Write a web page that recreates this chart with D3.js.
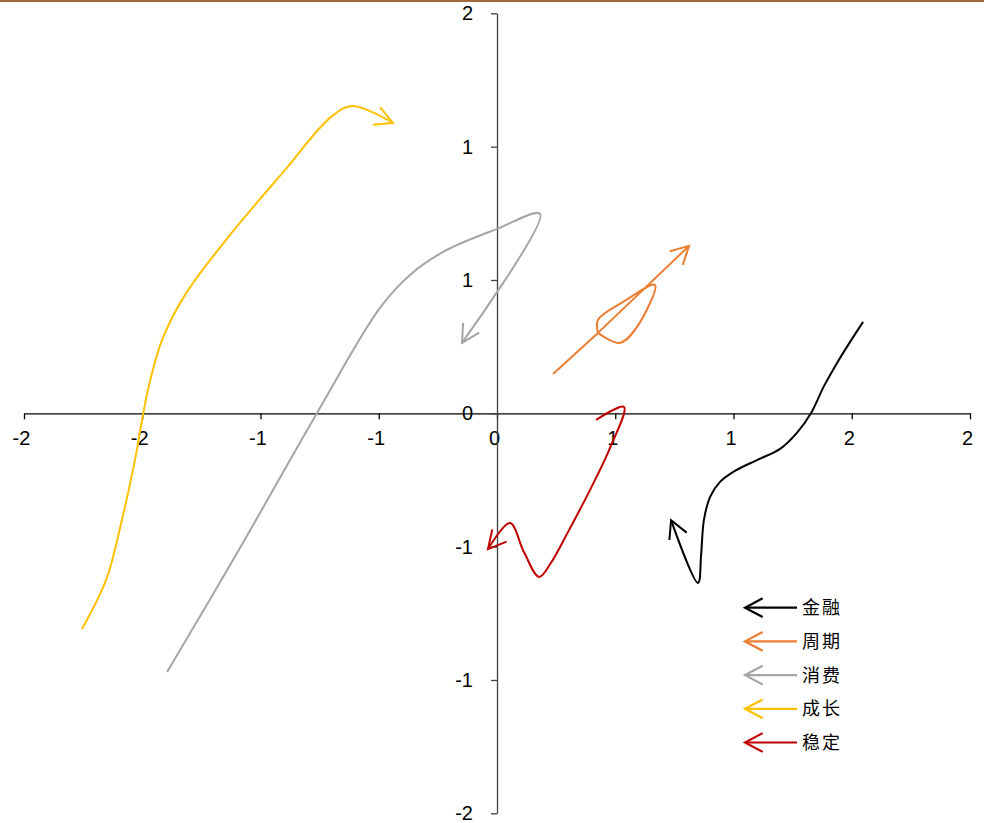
<!DOCTYPE html>
<html><head><meta charset="utf-8">
<script src="https://cdn.jsdelivr.net/npm/d3@7"></script>
<style>body{margin:0;background:#fff}svg{display:block}</style>
</head><body><svg id="c" width="984" height="823"></svg>
<script>
// ---- data ----
const seriesNames = ["金融","周期","消费","成长","稳定"];
const xTickValues = [-2,-1.5,-1,-0.5,0,0.5,1,1.5,2];
const xTickLabels = ["-2","-2","-1","-1","0","1","1","2","2"];
const yTickValues = [2,4/3,2/3,0,-2/3,-4/3,-2];
const yTickLabels = ["2","1","1","0","-1","-1","-2"];

const finX = [1.548,1.493,1.438,1.383,1.328,1.268,1.197,1.099,1.006,0.943,0.901,0.875,0.863,0.850,0.736];
const finY = [0.457,0.357,0.252,0.137,0.002,-0.098,-0.178,-0.234,-0.288,-0.343,-0.418,-0.533,-0.708,-0.848,-0.534];

const cycX = [0.237,0.427,0.520,0.592,0.668,0.533,0.427,0.427,0.812];
const cycY = [0.197,0.402,0.352,0.432,0.642,0.557,0.467,0.402,0.837];
const cycBreaks = [1,7]; // points where the smoothed line has a corner

const conX = [-1.395,-1.087,-0.761,-0.495,-0.368,-0.220,0.000,0.182,-0.148];
const conY = [-1.294,-0.674,0.002,0.527,0.692,0.812,0.922,0.997,0.352];

const groX = [-1.755,-1.653,-1.586,-1.531,-1.476,-1.416,-1.319,-1.129,-0.896,-0.706,-0.613,-0.440];
const groY = [-1.079,-0.833,-0.533,-0.234,0.117,0.367,0.592,0.892,1.217,1.477,1.537,1.452];

const staX = [0.419,0.537,0.478,0.393,0.300,0.228,0.178,0.114,0.055,-0.038];
const staY = [-0.033,0.032,-0.173,-0.384,-0.594,-0.748,-0.818,-0.694,-0.549,-0.679];

const seriesX = [finX,cycX,conX,groX,staX];
const seriesY = [finY,cycY,conY,groY,staY];
const seriesBreaks = [[],cycBreaks,[],[],[]];

// ---- styles ----
const colors = ["#000000","#ED7D31","#A5A5A5","#FFC000","#C00000"];

const W = 984, H = 823;
const svg = d3.select("#c");
const x = d3.scaleLinear().domain([-2,2]).range([24,970]);
const y = d3.scaleLinear().domain([-2,2]).range([813.3,13.3]);

svg.append("rect").attr("x",0).attr("y",0).attr("width",W).attr("height",2).attr("fill","#9e6b3e");

const font = "'Liberation Sans', Arial, sans-serif";

const gx = svg.append("g").attr("transform",`translate(0,${y(0)})`)
  .call(d3.axisBottom(x).tickValues(xTickValues).tickFormat((d,i)=>xTickLabels[i])
    .tickSize(6).tickSizeOuter(0).tickPadding(12));
gx.attr("font-size",20).attr("font-family",font);
gx.select(".domain").attr("stroke","#000").attr("stroke-width",1.3);
gx.selectAll(".tick line").attr("stroke","#000").attr("stroke-width",1.3);
gx.selectAll(".tick text").attr("fill","#000").attr("dx","-3");

const gy = svg.append("g").attr("transform",`translate(${x(0)},0)`)
  .call(d3.axisLeft(y).tickValues(yTickValues).tickFormat((d,i)=>yTickLabels[i])
    .tickSize(6).tickSizeOuter(0).tickPadding(18));
gy.attr("font-size",20).attr("font-family",font);
gy.select(".domain").attr("stroke","#404040").attr("stroke-width",1.3);
gy.selectAll(".tick line").attr("stroke","#404040").attr("stroke-width",1.3);
gy.selectAll(".tick text").attr("fill","#000");

const line = d3.line().x(d=>x(d[0])).y(d=>y(d[1])).curve(d3.curveCatmullRom.alpha(0.5));

const AL = 20, AH = 28*Math.PI/180;
function arrowPath(tx,ty,ux,uy){
  const bx = -ux, by = -uy;
  const c = Math.cos(AH), s = Math.sin(AH);
  const p1 = [tx + AL*(bx*c - by*s), ty + AL*(bx*s + by*c)];
  const p2 = [tx + AL*(bx*c + by*s), ty + AL*(-bx*s + by*c)];
  return `M${p1[0]},${p1[1]}L${tx},${ty}L${p2[0]},${p2[1]}`;
}

seriesNames.forEach((name,i)=>{
  const pts = seriesX[i].map((v,k)=>[v, seriesY[i][k]]);
  const g = svg.append("g");
  const cuts = [0, ...seriesBreaks[i], pts.length-1];
  let d = "";
  for (let k=0;k<cuts.length-1;k++){
    d += line(pts.slice(cuts[k], cuts[k+1]+1));
  }
  g.append("path").attr("d",d).attr("fill","none")
    .attr("stroke",colors[i]).attr("stroke-width",2).attr("stroke-linejoin","round");
  const n = pts.length;
  const tx = x(pts[n-1][0]), ty = y(pts[n-1][1]);
  const px = x(pts[n-2][0]), py = y(pts[n-2][1]);
  const dl = Math.hypot(tx-px, ty-py);
  g.append("path").attr("d",arrowPath(tx,ty,(tx-px)/dl,(ty-py)/dl)).attr("fill","none")
    .attr("stroke",colors[i]).attr("stroke-width",2).attr("stroke-linejoin","miter");
});

// legend
const leg = svg.append("g");
seriesNames.forEach((name,i)=>{
  const ly = 607.7 + i*33.7;
  leg.append("line").attr("x1",746).attr("x2",797).attr("y1",ly).attr("y2",ly)
    .attr("stroke",colors[i]).attr("stroke-width",2.2);
  leg.append("path").attr("d",arrowPath(745,ly,-1,0)).attr("fill","none")
    .attr("stroke",colors[i]).attr("stroke-width",2.2);
  leg.append("text").attr("x",802).attr("y",ly).attr("dy","0.36em")
    .attr("font-family","'Noto Sans CJK SC', sans-serif").attr("font-size",18)
    .attr("letter-spacing","2px").attr("fill","#000").text(name);
});
</script></body></html>
